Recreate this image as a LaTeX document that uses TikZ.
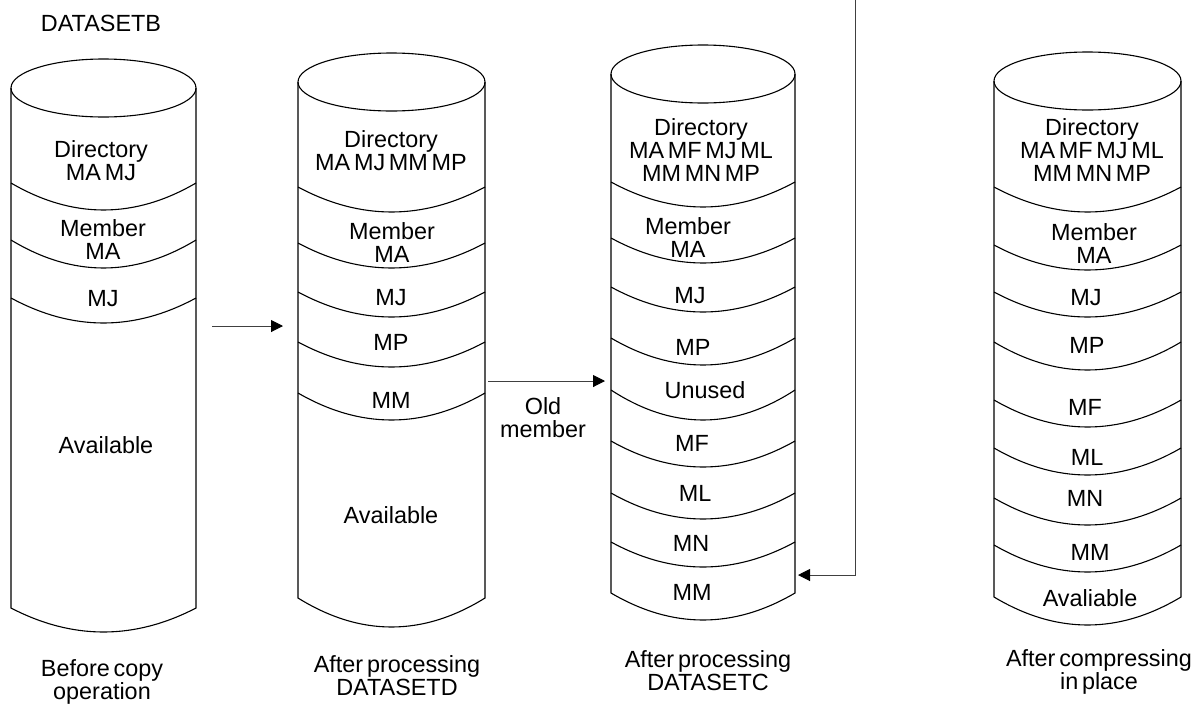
\documentclass[tikz,border=0pt]{standalone}
\usepackage{fontspec}
\setmainfont{Liberation Sans}
\usetikzlibrary{arrows.meta}

\begin{document}
\begin{tikzpicture}[x=0.5pt, y=-0.5pt, line width=0.55pt]
  \tikzstyle{lbl} = [align=center, font={\fontsize{11.7}{11.5}\selectfont\spaceskip=0.16em\relax}, inner sep=0pt, text depth=0pt]
  \tikzstyle{link} = [draw=black!75, line width=0.5pt, -{Triangle[length=6pt, width=6pt, color=black]}]

  \useasboundingbox (0,0) rectangle (1202,707);

  \foreach \xl/\xr/\cy/\yb/\db/\divs in {
      11/196/88/608/24/{183/27,240/28,298/25},
      298/485/82/598/29/{187/25,243/25,292/25,342/25,393/27},
      611/795/74/593/27/{182/25,238/25,287/25,338/27,390/30,441/26,493/26,542/25},
      994/1181/81/597/28/{187/25,245/25,292/25,342/28,400/27,448/27,498/27,545/27}} {
    \pgfmathsetmacro{\wa}{(\xr-\xl)/3}
    \pgfmathsetmacro{\rx}{(\xr-\xl)/2}
    \draw ({\xl+\rx},\cy) ellipse [x radius=\rx, y radius=29];
    \draw (\xl,\cy) -- (\xl,\yb) .. controls ({\xl+\wa},{\yb+1.333*\db}) and ({\xr-\wa},{\yb+1.333*\db}) .. (\xr,\yb) -- (\xr,\cy);
    \foreach \y/\d in \divs
      \draw (\xl,\y) .. controls ({\xl+\wa},{\y+1.333*\d}) and ({\xr-\wa},{\y+1.333*\d}) .. (\xr,\y);
  }

  \node [lbl] (title) at (101,23) {DATASETB};

  \node [lbl] (dirB) at (101,161) {Directory\\MA MJ};
  \node [lbl] (memB) at (103,240) {Member\\MA};
  \node [lbl] (mjB) at (103,298) {MJ};
  \node [lbl] (avB) at (106,445) {Available};
  \node [lbl] (capB) at (102,680) {Before copy\\operation};

  \node [lbl] (dirD) at (391,151) {Directory\\MA MJ MM MP};
  \node [lbl] (memD) at (392,243) {Member\\MA};
  \node [lbl] (mjD) at (391,297) {MJ};
  \node [lbl] (mpD) at (391,342) {MP};
  \node [lbl] (mmD) at (391,400) {MM};
  \node [lbl] (avD) at (391,515) {Available};
  \node [lbl] (capD) at (397,676) {After processing\\DATASETD};

  \node [lbl] (dirC) at (701,150) {Directory\\MA MF MJ ML\\MM MN MP};
  \node [lbl] (memC) at (688,238) {Member\\MA};
  \node [lbl] (mjC) at (690,295) {MJ};
  \node [lbl] (mpC) at (693,347) {MP};
  \node [lbl] (unC) at (705,390) {Unused};
  \node [lbl] (mfC) at (692,443) {MF};
  \node [lbl] (mlC) at (695,493) {ML};
  \node [lbl] (mnC) at (691,543) {MN};
  \node [lbl] (mmC) at (692,592) {MM};
  \node [lbl] (capC) at (708,671) {After processing\\DATASETC};

  \node [lbl] (dirP) at (1092,150) {Directory\\MA MF MJ ML\\MM MN MP};
  \node [lbl] (memP) at (1094,244) {Member\\MA};
  \node [lbl] (mjP) at (1086,297) {MJ};
  \node [lbl] (mpP) at (1087,345) {MP};
  \node [lbl] (mfP) at (1085,407) {MF};
  \node [lbl] (mlP) at (1087,457) {ML};
  \node [lbl] (mnP) at (1085,498) {MN};
  \node [lbl] (mmP) at (1090,552) {MM};
  \node [lbl] (avP) at (1090,598) {Avaliable};
  \node [lbl] (capP) at (1099,670) {After compressing\\in place};

  \node [lbl] (old) at (543,418) {Old\\member};

  \coordinate (bOut) at (212,326);
  \coordinate (dIn) at (283,326);
  \coordinate (dOut) at (488,381);
  \coordinate (cIn) at (605,381);
  \coordinate (fbTop) at (855,0);
  \coordinate (cMM) at (798,575);

  \draw [link] (bOut) -- (dIn);
  \draw [link] (dOut) -- (cIn);
  \draw [link] (fbTop) |- (cMM);
\end{tikzpicture}
\end{document}
